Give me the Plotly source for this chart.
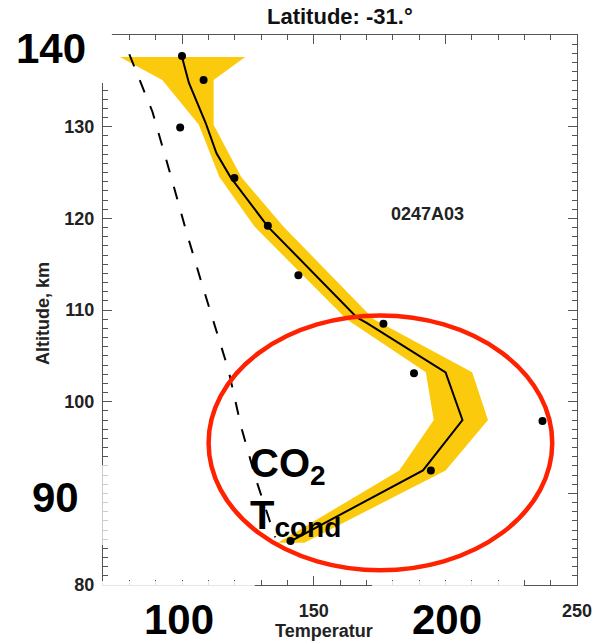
import plotly.graph_objects as go

# ---- data ----
# retrieved temperature profile (black line)
prof_alt = [137.6, 134.8, 130.4, 127.1, 124.5, 119.1, 109.2, 108.6, 103.2, 98.0, 92.5, 84.6]
prof_T = [100.0, 102.6, 109.0, 113.1, 118.4, 132.6, 166.4, 170.1, 200.1, 206.5, 191.5, 140.1]

# uncertainty band (yellow)
band_alt = [137.6, 135.1, 130.2, 124.5, 119.1, 109.0, 103.2, 98.0, 92.5, 84.6]
band_lo = [76.4, 92.5, 106.4, 114.2, 127.5, 162.5, 192.6, 195.6, 182.5, 136.4]
band_hi = [124.0, 112.0, 112.0, 122.5, 138.5, 172.8, 210.2, 216.2, 200.1, 146.5]

# individual measurements (dots)
obs_T = [100.0, 108.2, 99.3, 119.9, 132.6, 144.2, 176.5, 188.1, 236.9, 194.5, 141.2]
obs_alt = [137.7, 135.1, 129.9, 124.4, 119.2, 113.8, 108.5, 103.1, 97.9, 92.5, 84.8]

# CO2 condensation temperature (dashed)
cond_T = [80.0, 88.8, 95.1, 101.5, 107.5, 112.7, 117.6, 122.5, 128.1, 135.4]
cond_alt = [137.9, 131.6, 125.3, 118.7, 112.9, 108.1, 103.5, 97.2, 91.5, 85.2]

x_label_vals = [150, 250]
x_major_vals = [100, 150, 200, 250]
y_label_vals = [80, 100, 110, 120, 130]
y_major_vals = [80, 90, 100, 110, 120, 130, 140]

title_text = "Latitude: -31.\u00b0"
orbit_text = "0247A03"

FONT = "Liberation Sans, Arial, Helvetica, sans-serif"
YELLOW = "#FCCA0C"
AX = "#555"

fig = go.Figure()

fig.add_trace(go.Scatter(
    x=band_lo + band_hi[::-1], y=band_alt + band_alt[::-1],
    fill="toself", fillcolor=YELLOW, line=dict(width=0, color=YELLOW),
    mode="lines", hoverinfo="skip", showlegend=False))

fig.add_trace(go.Scatter(
    x=cond_T, y=cond_alt, mode="lines", xaxis="x2", yaxis="y2",
    line=dict(color="black", width=2, dash="13px,15px"), showlegend=False))

fig.add_trace(go.Scatter(
    x=prof_T, y=prof_alt, mode="lines",
    line=dict(color="black", width=2), showlegend=False))

fig.add_trace(go.Scatter(
    x=obs_T, y=obs_alt, mode="markers",
    marker=dict(color="black", size=8), showlegend=False))

L, R, T, B = 103, 20, 35, 58
W, H = 604, 643
PW, PH = W - L - R, H - T - B


def px(x):
    return (x - L) / PW


def py(y):
    return (H - B - y) / PH


axis_common = dict(
    showgrid=False, zeroline=False, showline=True, linecolor=AX, linewidth=1,
    ticks="inside", ticklen=9, tickcolor=AX, tickwidth=1,
    tickfont=dict(family=FONT, size=18, color="#222", weight="bold"),
)

fig.update_layout(
    xaxis=dict(range=[70, 250], tickvals=x_label_vals, side="bottom",
               minor=dict(dtick=10, tick0=70, ticks="inside", ticklen=5, tickcolor=AX),
               ticklabelstandoff=9, **axis_common),
    yaxis=dict(range=[80, 140], tickvals=y_label_vals, side="left",
               minor=dict(dtick=1, ticks="inside", ticklen=5, tickcolor=AX),
               ticklabelstandoff=4, **axis_common),
    xaxis2=dict(matches="x", overlaying="x", side="top", tickvals=x_major_vals,
                showticklabels=False,
                minor=dict(dtick=10, tick0=70, ticks="inside", ticklen=5, tickcolor=AX),
                **axis_common),
    yaxis2=dict(matches="y", overlaying="y", side="right", tickvals=y_major_vals,
                showticklabels=False,
                minor=dict(dtick=1, ticks="inside", ticklen=5, tickcolor=AX),
                **axis_common),
)

shapes = [
    # red ellipse
    dict(type="circle", xref="x", yref="y", x0=110.1, x1=240.6, y0=81.6, y1=109.4,
         line=dict(color="#FF2200", width=4.5), layer="above"),
    # white patches from the composite picture
    dict(type="rect", xref="paper", yref="paper", x0=px(0), x1=px(112), y0=py(83), y1=py(26),
         fillcolor="white", line=dict(width=0), layer="above"),
    dict(type="rect", xref="paper", yref="paper", x0=px(96), x1=px(257), y0=py(643), y1=py(581),
         fillcolor="white", opacity=0.85, line=dict(width=0), layer="above"),
    dict(type="rect", xref="paper", yref="paper", x0=px(376), x1=px(530), y0=py(643), y1=py(581),
         fillcolor="white", opacity=0.85, line=dict(width=0), layer="above"),
    dict(type="rect", xref="paper", yref="paper", x0=px(96), x1=px(112), y0=py(545), y1=py(465),
         fillcolor="white", opacity=0.7, line=dict(width=0), layer="above"),
]
fig.update_layout(shapes=shapes)

big = dict(family=FONT, size=42, color="black", weight="bold")
lab = dict(family=FONT, size=18, color="#222", weight="bold")
ann = [
    dict(text=title_text, x=px(343), y=py(16), font=dict(family=FONT, size=22, color="#111", weight="bold")),
    dict(text="Altitude, km", x=px(42), y=py(313), textangle=-90, font=lab),
    dict(text="Temperatur", x=px(327), y=py(631), font=lab),
    dict(text=orbit_text, x=px(432), y=py(214),
         font=dict(family=FONT, size=18, color="#222", weight="bold")),
    dict(text="140", x=px(50), y=py(48), font=big),
    dict(text="90", x=px(55), y=py(497), font=big),
    dict(text="100", x=px(180), y=py(619), font=big),
    dict(text="200", x=px(452), y=py(619), font=big),
    dict(text="CO<sub>2</sub>", x=px(250), y=py(466), xanchor="left",
         font=dict(family=FONT, size=40, color="black", weight="bold")),
    dict(text="T<sub>cond</sub>", x=px(250), y=py(518), xanchor="left",
         font=dict(family=FONT, size=40, color="black", weight="bold")),
]
for a in ann:
    a.setdefault("xanchor", "center")
    a.update(xref="paper", yref="paper", yanchor="middle", showarrow=False)
fig.update_layout(annotations=ann)

fig.update_layout(
    width=W, height=H, autosize=False,
    margin=dict(l=L, r=R, t=T, b=B, pad=0),
    paper_bgcolor="white", plot_bgcolor="white",
    font=dict(family=FONT),
    showlegend=False,
)

fig.write_html("out.html")
